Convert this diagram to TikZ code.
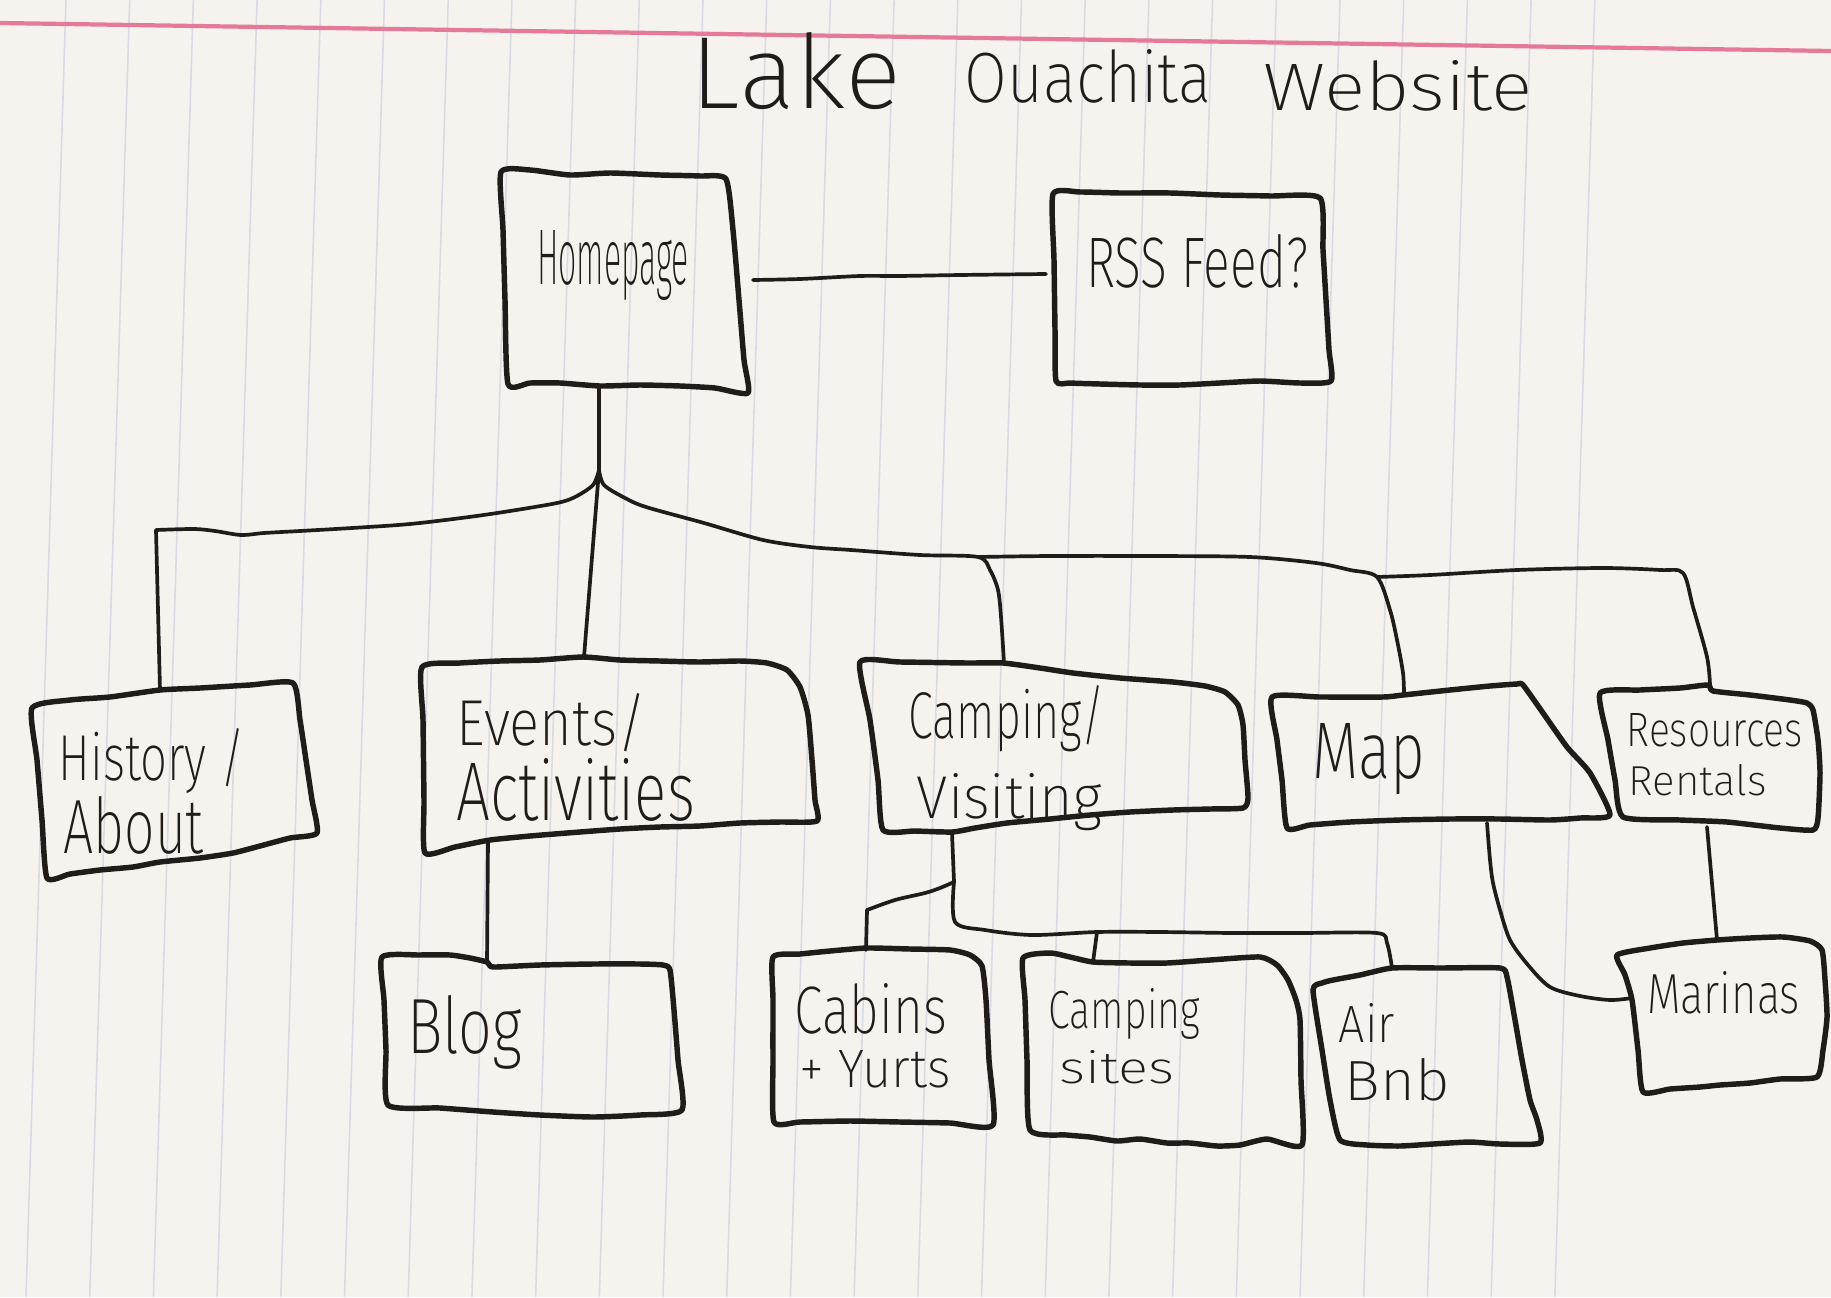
\documentclass[tikz,border=0pt]{standalone}
\usepackage{fontspec}
\setmainfont{Fira Sans ExtraLight}
\usepackage{graphicx}

\definecolor{paper}{RGB}{246,243,238}
\definecolor{ink}{RGB}{33,27,25}
\definecolor{rulecol}{RGB}{216,219,229}
\definecolor{margincol}{RGB}{228,122,152}

% one handwritten line squeezed to a given width and height (cm)
\newcommand{\hw}[3]{\resizebox{#1cm}{#2cm}{#3}}
% place a line at an offset (cm) from the node's base point
\newcommand{\lineat}[3]{\makebox[0pt][l]{\hspace*{#1cm}\raisebox{#2cm}{#3}}}

\tikzset{
  boxline/.style={draw=ink, line width=1.55pt, line join=round, line cap=round},
  link/.style={draw=ink, line width=1.05pt, line join=round, line cap=round},
  label/.style={inner sep=0pt, outer sep=0pt, anchor=base west, text=ink},
  wobbly/.style={smooth cycle, tension=0.35},
  curvy/.style={smooth, tension=0.5},
}

\begin{document}
\begin{tikzpicture}[x=0.01cm, y=-0.01cm]
  % sheet of ruled paper
  \fill[paper] (0,0) rectangle (1831,1297);
  \useasboundingbox (0,0) rectangle (1831,1297);
  \foreach \k in {0,...,24}
    \draw[rulecol, line width=0.45pt] ({66+63.7*\k},0) -- ({26+63.7*\k},1297);
  \draw[margincol, line width=1.2pt] (0,23) -- (1831,51);

  % attachment points of the connectors
  \coordinate (home-e) at (753,280);
  \coordinate (rss-w) at (1046,274);
  \coordinate (home-s) at (599,389);
  \coordinate (fork) at (599,470);
  \coordinate (hist-n) at (160,690);
  \coordinate (events-n) at (584,657);
  \coordinate (camp-n) at (1004,663);
  \coordinate (split) at (978,557);
  \coordinate (mapjoin) at (1377,577);
  \coordinate (map-n) at (1404,695);
  \coordinate (res-n) at (1710,685);
  \coordinate (events-s) at (488,840);
  \coordinate (blog-n) at (487,962);
  \coordinate (camp-s) at (952,833);
  \coordinate (campfork) at (954,882);
  \coordinate (cab-n) at (866,950);
  \coordinate (sitesjoin) at (1097,932);
  \coordinate (sites-n) at (1093,962);
  \coordinate (air-n) at (1392,968);
  \coordinate (map-s) at (1487,823);
  \coordinate (mar-w) at (1632,998);
  \coordinate (res-s) at (1707,827);
  \coordinate (mar-n) at (1717,940);

  % box outlines
  \draw[boxline] plot[wobbly] coordinates {(501,172) (530,170) (570,175) (610,173) (660,175) (700,176) (726,179) (733,230) (739,300) (744,360) (748,393) (715,388) (680,386) (640,385) (600,386) (560,383) (530,383) (508,384) (505,300) (503,230)};
  \draw[boxline] plot[wobbly] coordinates {(1053,194) (1080,192) (1120,193) (1170,193) (1220,195) (1270,196) (1320,198) (1323,250) (1326,300) (1329,350) (1331,381) (1300,383) (1260,381) (1220,383) (1180,385) (1140,385) (1100,384) (1070,383) (1056,381) (1055,330) (1054,260)};
  \draw[boxline] plot[wobbly] coordinates {(32,708) (70,700) (110,697) (160,690) (200,688) (250,685) (293,683) (300,720) (306,760) (312,800) (317,833) (290,838) (260,846) (233,853) (200,858) (160,862) (133,867) (100,870) (70,874) (47,878) (42,820) (37,760)};
  \draw[boxline] plot[wobbly] coordinates {(422,667) (460,663) (500,661) (540,660) (583,657) (620,660) (660,661) (700,662) (740,661) (767,663) (787,670) (800,687) (808,715) (812,760) (815,800) (817,821) (780,822) (740,823) (700,826) (660,827) (620,829) (567,833) (530,836) (490,840) (455,847) (425,853) (424,800) (423,720)};
  \draw[boxline] plot[wobbly] coordinates {(860,662) (900,662) (967,663) (1003,663) (1040,668) (1073,673) (1120,678) (1173,682) (1205,686) (1225,692) (1238,705) (1243,725) (1245,760) (1248,798) (1243,808) (1210,809) (1173,810) (1130,812) (1090,815) (1050,819) (1007,823) (975,828) (952,832) (915,831) (883,830) (878,780) (870,720)};
  \draw[boxline] plot[wobbly] coordinates {(1272,697) (1320,697) (1383,697) (1403,695) (1450,690) (1490,686) (1517,684) (1523,685) (1543,713) (1567,747) (1590,773) (1610,815) (1580,818) (1550,820) (1500,819) (1450,819) (1400,820) (1350,822) (1310,825) (1287,828) (1282,780) (1277,740)};
  \draw[boxline] plot[wobbly] coordinates {(1600,693) (1640,690) (1680,688) (1708,685) (1713,691) (1750,695) (1790,700) (1807,703) (1813,710) (1818,740) (1820,773) (1818,818) (1813,830) (1780,828) (1727,822) (1680,820) (1623,817) (1615,780) (1608,740)};
  \draw[boxline] plot[wobbly] coordinates {(382,957) (420,955) (450,955) (470,958) (487,962) (490,966) (496,967) (540,965) (593,964) (640,964) (663,965) (670,970) (674,1010) (678,1060) (682,1110) (640,1115) (593,1117) (540,1115) (493,1112) (440,1108) (388,1105) (386,1050) (384,1000)};
  \draw[boxline] plot[wobbly] coordinates {(773,957) (800,954) (830,951) (867,948) (910,949) (950,950) (970,955) (982,966) (986,1000) (989,1060) (993,1125) (950,1123) (900,1122) (850,1121) (800,1122) (774,1122) (773,1060) (773,1000)};
  \draw[boxline] plot[wobbly] coordinates {(1023,958) (1050,953) (1070,957) (1093,962) (1130,963) (1167,963) (1210,960) (1260,957) (1277,965) (1288,980) (1296,1000) (1300,1020) (1301,1080) (1302,1145) (1267,1139) (1240,1145) (1217,1146) (1190,1143) (1167,1143) (1140,1139) (1117,1141) (1090,1137) (1067,1135) (1030,1130) (1027,1060) (1025,1000)};
  \draw[boxline] plot[wobbly] coordinates {(1313,990) (1322,983) (1333,980) (1360,975) (1392,968) (1440,968) (1500,968) (1507,977) (1515,1020) (1522,1060) (1530,1100) (1537,1120) (1540,1143) (1500,1144) (1470,1142) (1433,1144) (1400,1146) (1367,1145) (1340,1140) (1330,1100) (1322,1050)};
  \draw[boxline] plot[wobbly] coordinates {(1617,955) (1650,948) (1683,943) (1717,940) (1750,938) (1783,937) (1810,941) (1822,950) (1825,980) (1827,1017) (1823,1050) (1817,1077) (1780,1079) (1750,1083) (1720,1085) (1700,1087) (1670,1089) (1643,1092) (1638,1050) (1632,1000) (1625,975)};

  % connectors
  \draw[link] plot[curvy] coordinates {(home-e) (800,279) (860,276) (899,276) (960,275) (rss-w)};
  \draw[link] (home-s) -- (fork);
  \draw[link] plot[curvy] coordinates {(fork) (593,485) (575,497) (557,503) (510,511) (469,517) (410,524) (352,528) (300,531) (264,533) (241,535) (215,531) (194,529) (156,530)} -- (hist-n);
  \draw[link] (fork) -- (events-n);
  \draw[link] plot[curvy] coordinates {(fork) (604,485) (625,498) (646,507) (704,523) (763,540) (810,547) (851,550) (920,555) (split) (990,570) (998,590) (1001,617) (camp-n)};
  \draw[link] plot[curvy] coordinates {(split) (1050,556) (1150,556) (1250,557) (1316,563) (1350,570) (mapjoin) (1390,610) (1397,640) (1403,673) (map-n)};
  \draw[link] plot[curvy] coordinates {(mapjoin) (1430,575) (1517,570) (1603,568) (1660,570) (1683,573) (1693,607) (1707,657) (res-n)};
  \draw[link] (events-s) -- (blog-n);
  \draw[link] (camp-s) -- (campfork);
  \draw[link] plot[curvy] coordinates {(campfork) (940,888) (925,893) (895,900) (867,910)} -- (cab-n);
  \draw[link] plot[curvy] coordinates {(campfork) (955,922) (985,930) (1032,935) (sitesjoin) (1160,932) (1233,933) (1300,933) (1377,933) (1387,943) (air-n)};
  \draw[link] (sitesjoin) -- (sites-n);
  \draw[link] plot[curvy] coordinates {(map-s) (1490,860) (1493,883) (1500,910) (1510,940) (1528,965) (1550,987) (1580,996) (1610,1000) (mar-w)};
  \draw[link] (res-s) -- (mar-n);

  % texts
  \node[label] (title) at (689,108) {\lineat{0}{0}{\hw{2.10}{0.76}{Lake}}\lineat{2.74}{0.05}{\hw{2.46}{0.53}{Ouachita}}\lineat{5.72}{-0.03}{\hw{2.69}{0.50}{Website}}};
  \node[label] (home) at (537,284) {\hw{1.52}{0.54}{Homepage}};
  \node[label] (rss) at (1086,287) {\hw{2.22}{0.53}{RSS Feed?}};
  \node[label] (history) at (57,780) {\lineat{0}{0}{\hw{1.86}{0.52}{History /}}\lineat{0.05}{-0.73}{\hw{1.40}{0.57}{About}}};
  \node[label] (events) at (455,745) {\lineat{0}{0}{\hw{1.90}{0.52}{Events/}}\lineat{0}{-0.75}{\hw{2.38}{0.62}{Activities}}};
  \node[label] (camping) at (907,738) {\lineat{0}{0}{\hw{1.96}{0.53}{Camping/}}\lineat{0.08}{-0.80}{\hw{1.85}{0.45}{Visiting}}};
  \node[label] (map) at (1312,778) {\hw{1.13}{0.55}{Map}};
  \node[label] (resources) at (1625,746) {\lineat{0}{0}{\hw{1.76}{0.33}{Resources}}\lineat{0.02}{-0.49}{\hw{1.38}{0.31}{Rentals}}};
  \node[label] (blog) at (407,1053) {\hw{1.15}{0.58}{Blog}};
  \node[label] (cabins) at (793,1033) {\lineat{0}{0}{\hw{1.52}{0.50}{Cabins}}\lineat{0.05}{-0.54}{\hw{1.51}{0.37}{+ Yurts}}};
  \node[label] (sites) at (1047,1028) {\lineat{0}{0}{\hw{1.51}{0.40}{Camping}}\lineat{0.11}{-0.55}{\hw{1.15}{0.33}{sites}}};
  \node[label] (airbnb) at (1337,1042) {\lineat{0}{0}{\hw{0.56}{0.39}{Air}}\lineat{0.06}{-0.58}{\hw{1.05}{0.42}{Bnb}}};
  \node[label] (marinas) at (1647,1013) {\hw{1.53}{0.42}{Marinas}};
\end{tikzpicture}
\end{document}
